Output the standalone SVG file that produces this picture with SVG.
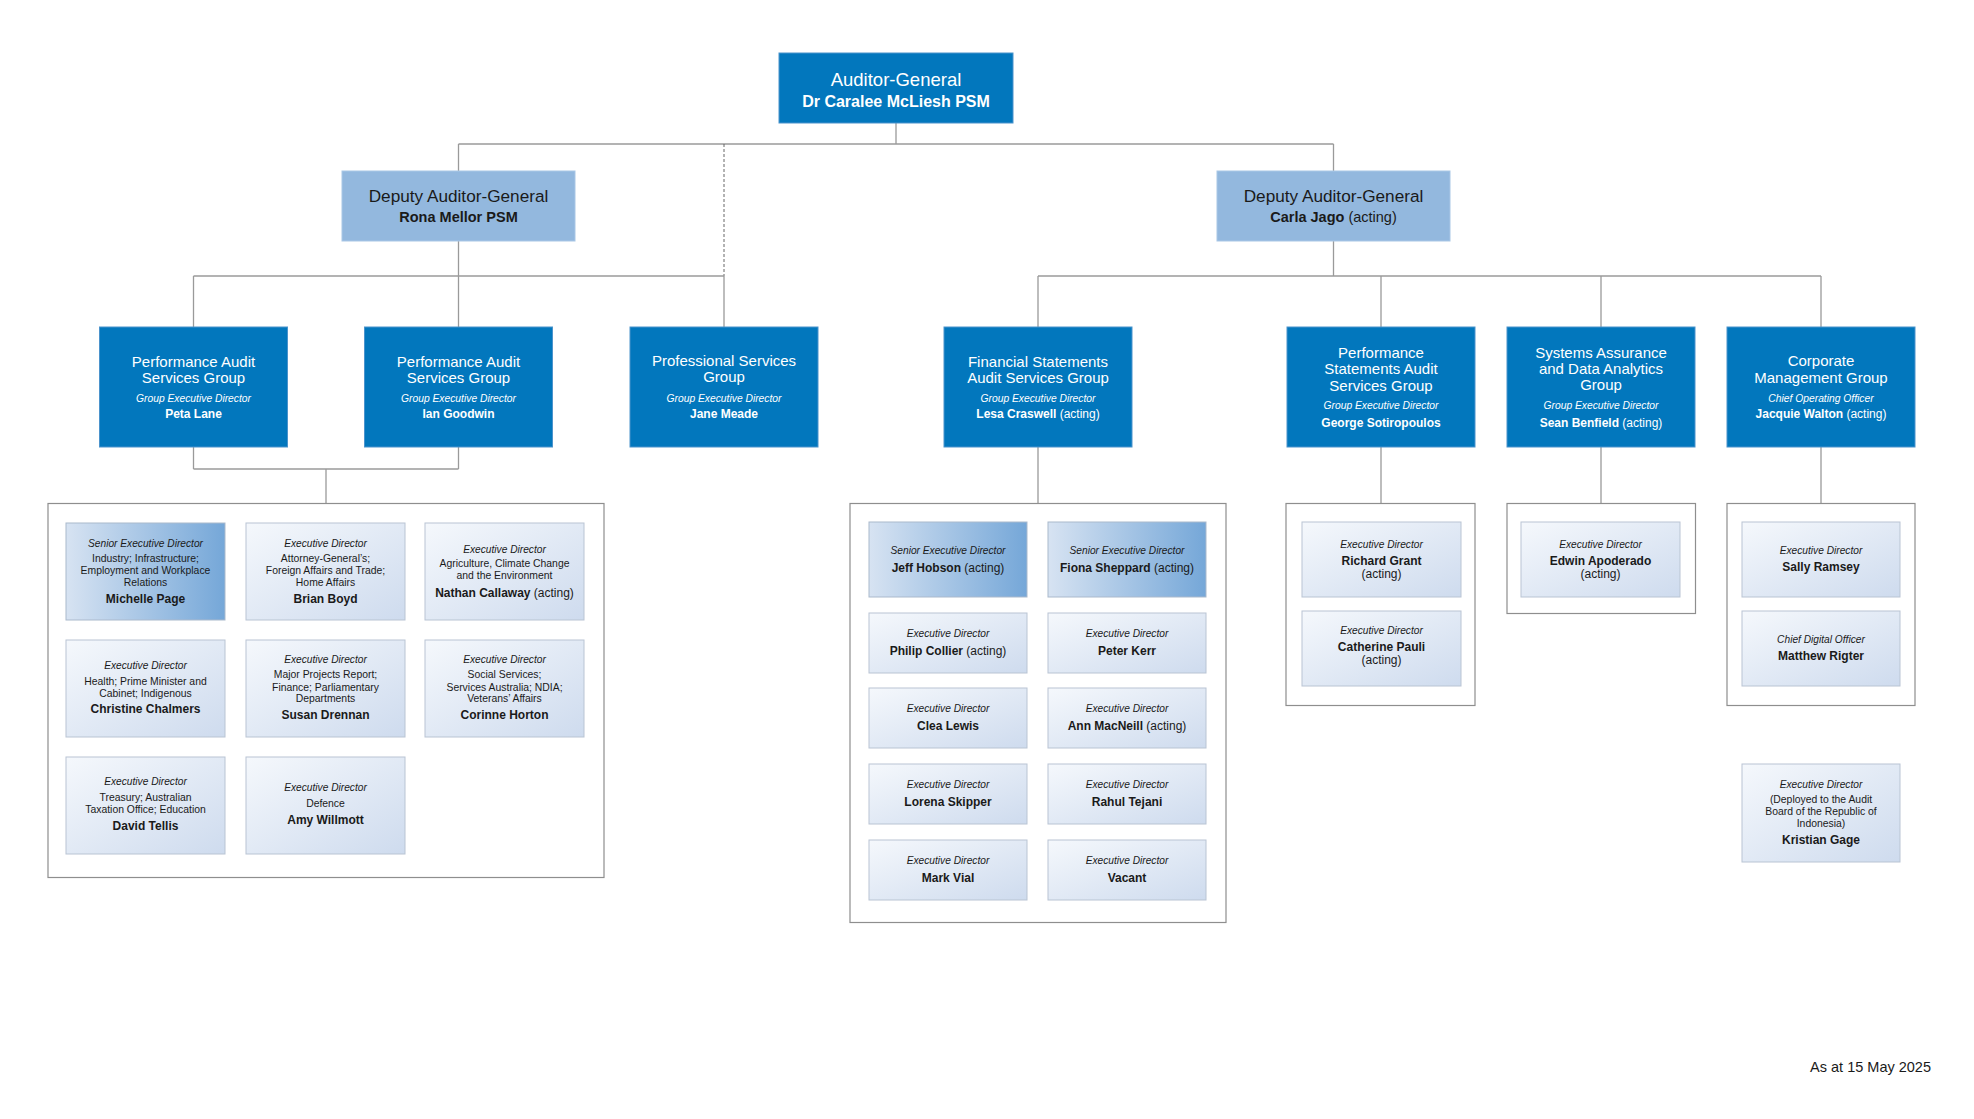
<svg xmlns="http://www.w3.org/2000/svg" width="1974" height="1119" viewBox="0 0 1974 1119">
<defs>
<linearGradient id="gSenior" x1="0" y1="0" x2="1" y2="0">
<stop offset="0" stop-color="#d7e3f2"/>
<stop offset="1" stop-color="#75a7d8"/>
</linearGradient>
<linearGradient id="gExec" x1="0" y1="0" x2="1" y2="1">
<stop offset="0" stop-color="#f5f8fc"/>
<stop offset="1" stop-color="#cedbee"/>
</linearGradient>
<style>
text{font-family:"Liberation Sans",Arial,Helvetica,sans-serif;text-anchor:middle;fill:#1a1a1a}
.blue{fill:#0277bd;stroke:#4b93cc;stroke-width:1}
.dag{fill:#93b8de;stroke:#a9c7e6;stroke-width:1}
.senior{fill:url(#gSenior);stroke:#aab9cc;stroke-width:1}
.exec{fill:url(#gExec);stroke:#b9c4d3;stroke-width:1}
.cont{fill:#ffffff;stroke:#8e8e8e;stroke-width:1.2}
.ln{fill:none;stroke:#9a9a9a;stroke-width:1.3}
.dash{fill:none;stroke:#666;stroke-width:1;stroke-dasharray:3 2}
.tag{font-size:18.5px;fill:#fff}
.nag{font-size:16px;font-weight:bold;fill:#fff}
.tdag{font-size:17.2px}
.ndag{font-size:14.5px;font-weight:bold}
.ndagr{font-size:14.5px;font-weight:normal}
.tg{font-size:15px;fill:#fff}
.rg{font-size:10.3px;font-style:italic;fill:#fff}
.ng{font-size:12px;font-weight:bold;fill:#fff}
.ngr{font-weight:normal}
.rc{font-size:10.2px;font-style:italic}
.dc{font-size:10.4px}
.nc{font-size:12px;font-weight:bold}
.ncr{font-weight:normal}
.ac{font-size:12px}
.foot{font-size:14.5px;text-anchor:end}
</style>
</defs>
<rect width="1974" height="1119" fill="#ffffff"/>

<g id="connectors">
<path class="ln" d="M896 123V144M458.5 144H1333.5M458.5 144V171M1333.5 144V171"/>
<path class="dash" d="M724 144V276"/>
<path class="ln" d="M458.5 241V327M193.5 276H724M193.5 276V327M724 276V327"/>
<path class="ln" d="M1333.5 241V276M1038 276H1821M1038 276V327M1381 276V327M1601 276V327M1821 276V327"/>
<path class="ln" d="M193.5 447V469M458.5 447V469M193.5 469H458.5M326 469V503.5"/>
<path class="ln" d="M1038 447V503.5M1381 447V503.5M1601 447V503.5M1821 447V503.5"/>
</g>

<g id="auditor-general">
<rect class="blue" x="779" y="53" width="234" height="70"/>
<text class="tag" x="896" y="86">Auditor-General</text>
<text class="nag" x="896" y="107">Dr Caralee McLiesh PSM</text>
</g>

<g id="dag-mellor">
<rect class="dag" x="342" y="171" width="233" height="70"/>
<text class="tdag" x="458.5" y="201.7">Deputy Auditor-General</text>
<text class="ndag" x="458.5" y="222">Rona Mellor PSM</text>
</g>

<g id="dag-jago">
<rect class="dag" x="1217" y="171" width="233" height="70"/>
<text class="tdag" x="1333.5" y="201.7">Deputy Auditor-General</text>
<text class="ndag" x="1333.5" y="222.3">Carla Jago <tspan class="ndagr">(acting)</tspan></text>
</g>

<g id="pasg-lane">
<rect class="blue" x="99.5" y="327" width="188" height="120"/>
<text class="tg" x="193.5" y="366.7">Performance Audit</text>
<text class="tg" x="193.5" y="382.7">Services Group</text>
<text class="rg" x="193.5" y="401.7">Group Executive Director</text>
<text class="ng" x="193.5" y="418.3">Peta Lane</text>
</g>

<g id="pasg-goodwin">
<rect class="blue" x="364.5" y="327" width="188" height="120"/>
<text class="tg" x="458.5" y="366.7">Performance Audit</text>
<text class="tg" x="458.5" y="382.7">Services Group</text>
<text class="rg" x="458.5" y="401.7">Group Executive Director</text>
<text class="ng" x="458.5" y="418.3">Ian Goodwin</text>
</g>

<g id="psg">
<rect class="blue" x="630" y="327" width="188" height="120"/>
<text class="tg" x="724" y="365.5">Professional Services</text>
<text class="tg" x="724" y="381.7">Group</text>
<text class="rg" x="724" y="401.7">Group Executive Director</text>
<text class="ng" x="724" y="418.3">Jane Meade</text>
</g>

<g id="fsasg">
<rect class="blue" x="944" y="327" width="188" height="120"/>
<text class="tg" x="1038" y="366.7">Financial Statements</text>
<text class="tg" x="1038" y="382.7">Audit Services Group</text>
<text class="rg" x="1038" y="401.7">Group Executive Director</text>
<text class="ng" x="1038" y="418.3">Lesa Craswell <tspan class="ngr">(acting)</tspan></text>
</g>

<g id="psasg">
<rect class="blue" x="1287" y="327" width="188" height="120"/>
<text class="tg" x="1381" y="358.3">Performance</text>
<text class="tg" x="1381" y="374.3">Statements Audit</text>
<text class="tg" x="1381" y="390.5">Services Group</text>
<text class="rg" x="1381" y="409.3">Group Executive Director</text>
<text class="ng" x="1381" y="426.7">George Sotiropoulos</text>
</g>

<g id="sadag">
<rect class="blue" x="1507" y="327" width="188" height="120"/>
<text class="tg" x="1601" y="357.7">Systems Assurance</text>
<text class="tg" x="1601" y="373.5">and Data Analytics</text>
<text class="tg" x="1601" y="389.5">Group</text>
<text class="rg" x="1601" y="409.3">Group Executive Director</text>
<text class="ng" x="1601" y="426.7">Sean Benfield <tspan class="ngr">(acting)</tspan></text>
</g>

<g id="cmg">
<rect class="blue" x="1727" y="327" width="188" height="120"/>
<text class="tg" x="1821" y="366">Corporate</text>
<text class="tg" x="1821" y="382.7">Management Group</text>
<text class="rg" x="1821" y="401.7">Chief Operating Officer</text>
<text class="ng" x="1821" y="418.3">Jacquie Walton <tspan class="ngr">(acting)</tspan></text>
</g>

<g id="pasg-team">
<rect class="cont" x="48" y="503.5" width="556" height="374"/>
</g>
<g id="ed-page">
<rect class="senior" x="66" y="523" width="159" height="97"/>
<text class="rc" x="145.5" y="546.7">Senior Executive Director</text>
<text class="dc" x="145.5" y="561.7">Industry; Infrastructure;</text>
<text class="dc" x="145.5" y="573.7">Employment and Workplace</text>
<text class="dc" x="145.5" y="585.5">Relations</text>
<text class="nc" x="145.5" y="603.3">Michelle Page</text>
</g>
<g id="ed-boyd">
<rect class="exec" x="246" y="523" width="159" height="97"/>
<text class="rc" x="325.5" y="546.7">Executive Director</text>
<text class="dc" x="325.5" y="561.7">Attorney-General’s;</text>
<text class="dc" x="325.5" y="573.5">Foreign Affairs and Trade;</text>
<text class="dc" x="325.5" y="585.5">Home Affairs</text>
<text class="nc" x="325.5" y="603.3">Brian Boyd</text>
</g>
<g id="ed-callaway">
<rect class="exec" x="425" y="523" width="159" height="97"/>
<text class="rc" x="504.5" y="552.7">Executive Director</text>
<text class="dc" x="504.5" y="567.3">Agriculture, Climate Change</text>
<text class="dc" x="504.5" y="579.3">and the Environment</text>
<text class="nc" x="504.5" y="597.3">Nathan Callaway <tspan class="ncr">(acting)</tspan></text>
</g>
<g id="ed-chalmers">
<rect class="exec" x="66" y="640" width="159" height="97"/>
<text class="rc" x="145.5" y="669.3">Executive Director</text>
<text class="dc" x="145.5" y="684.7">Health; Prime Minister and</text>
<text class="dc" x="145.5" y="696.7">Cabinet; Indigenous</text>
<text class="nc" x="145.5" y="713.3">Christine Chalmers</text>
</g>
<g id="ed-drennan">
<rect class="exec" x="246" y="640" width="159" height="97"/>
<text class="rc" x="325.5" y="663.3">Executive Director</text>
<text class="dc" x="325.5" y="678.3">Major Projects Report;</text>
<text class="dc" x="325.5" y="690.5">Finance; Parliamentary</text>
<text class="dc" x="325.5" y="702.3">Departments</text>
<text class="nc" x="325.5" y="719.3">Susan Drennan</text>
</g>
<g id="ed-horton">
<rect class="exec" x="425" y="640" width="159" height="97"/>
<text class="rc" x="504.5" y="663.3">Executive Director</text>
<text class="dc" x="504.5" y="678.3">Social Services;</text>
<text class="dc" x="504.5" y="690.5">Services Australia; NDIA;</text>
<text class="dc" x="504.5" y="702.3">Veterans’ Affairs</text>
<text class="nc" x="504.5" y="719.3">Corinne Horton</text>
</g>
<g id="ed-tellis">
<rect class="exec" x="66" y="757" width="159" height="97"/>
<text class="rc" x="145.5" y="785.3">Executive Director</text>
<text class="dc" x="145.5" y="801">Treasury; Australian</text>
<text class="dc" x="145.5" y="813.3">Taxation Office; Education</text>
<text class="nc" x="145.5" y="830">David Tellis</text>
</g>
<g id="ed-willmott">
<rect class="exec" x="246" y="757" width="159" height="97"/>
<text class="rc" x="325.5" y="791.3">Executive Director</text>
<text class="dc" x="325.5" y="807.3">Defence</text>
<text class="nc" x="325.5" y="824">Amy Willmott</text>
</g>

<g id="fsasg-team">
<rect class="cont" x="850" y="503.5" width="376" height="419"/>
</g>
<g id="sed-hobson">
<rect class="senior" x="869" y="522" width="158" height="75"/>
<text class="rc" x="948" y="554.3">Senior Executive Director</text>
<text class="nc" x="948" y="571.7">Jeff Hobson <tspan class="ncr">(acting)</tspan></text>
</g>
<g id="sed-sheppard">
<rect class="senior" x="1048" y="522" width="158" height="75"/>
<text class="rc" x="1127" y="554.3">Senior Executive Director</text>
<text class="nc" x="1127" y="571.7">Fiona Sheppard <tspan class="ncr">(acting)</tspan></text>
</g>
<g id="ed-collier">
<rect class="exec" x="869" y="613" width="158" height="60"/>
<text class="rc" x="948" y="637.3">Executive Director</text>
<text class="nc" x="948" y="655.3">Philip Collier <tspan class="ncr">(acting)</tspan></text>
</g>
<g id="ed-kerr">
<rect class="exec" x="1048" y="613" width="158" height="60"/>
<text class="rc" x="1127" y="637.3">Executive Director</text>
<text class="nc" x="1127" y="655.3">Peter Kerr</text>
</g>
<g id="ed-lewis">
<rect class="exec" x="869" y="688" width="158" height="60"/>
<text class="rc" x="948" y="712.3">Executive Director</text>
<text class="nc" x="948" y="730.3">Clea Lewis</text>
</g>
<g id="ed-macneill">
<rect class="exec" x="1048" y="688" width="158" height="60"/>
<text class="rc" x="1127" y="712.3">Executive Director</text>
<text class="nc" x="1127" y="730.3">Ann MacNeill <tspan class="ncr">(acting)</tspan></text>
</g>
<g id="ed-skipper">
<rect class="exec" x="869" y="764" width="158" height="60"/>
<text class="rc" x="948" y="788.3">Executive Director</text>
<text class="nc" x="948" y="806.3">Lorena Skipper</text>
</g>
<g id="ed-tejani">
<rect class="exec" x="1048" y="764" width="158" height="60"/>
<text class="rc" x="1127" y="788.3">Executive Director</text>
<text class="nc" x="1127" y="806.3">Rahul Tejani</text>
</g>
<g id="ed-vial">
<rect class="exec" x="869" y="840" width="158" height="60"/>
<text class="rc" x="948" y="864.3">Executive Director</text>
<text class="nc" x="948" y="882.3">Mark Vial</text>
</g>
<g id="ed-vacant">
<rect class="exec" x="1048" y="840" width="158" height="60"/>
<text class="rc" x="1127" y="864.3">Executive Director</text>
<text class="nc" x="1127" y="882.3">Vacant</text>
</g>

<g id="psasg-team">
<rect class="cont" x="1286" y="503.5" width="189" height="202"/>
</g>
<g id="ed-grant">
<rect class="exec" x="1302" y="522" width="159" height="75"/>
<text class="rc" x="1381.5" y="548.3">Executive Director</text>
<text class="nc" x="1381.5" y="565">Richard Grant</text>
<text class="ac" x="1381.5" y="578.3">(acting)</text>
</g>
<g id="ed-pauli">
<rect class="exec" x="1302" y="611" width="159" height="75"/>
<text class="rc" x="1381.5" y="634.3">Executive Director</text>
<text class="nc" x="1381.5" y="650.7">Catherine Pauli</text>
<text class="ac" x="1381.5" y="664">(acting)</text>
</g>

<g id="sadag-team">
<rect class="cont" x="1507" y="503.5" width="188.5" height="110"/>
</g>
<g id="ed-apoderado">
<rect class="exec" x="1521" y="522" width="159" height="75"/>
<text class="rc" x="1600.5" y="548.3">Executive Director</text>
<text class="nc" x="1600.5" y="565">Edwin Apoderado</text>
<text class="ac" x="1600.5" y="578.3">(acting)</text>
</g>

<g id="cmg-team">
<rect class="cont" x="1727" y="503.5" width="188" height="202"/>
</g>
<g id="ed-ramsey">
<rect class="exec" x="1742" y="522" width="158" height="75"/>
<text class="rc" x="1821" y="554">Executive Director</text>
<text class="nc" x="1821" y="570.7">Sally Ramsey</text>
</g>
<g id="cdo-rigter">
<rect class="exec" x="1742" y="611" width="158" height="75"/>
<text class="rc" x="1821" y="643.3">Chief Digital Officer</text>
<text class="nc" x="1821" y="660">Matthew Rigter</text>
</g>

<g id="ed-gage">
<rect class="exec" x="1742" y="764" width="158" height="98"/>
<text class="rc" x="1821" y="788.3">Executive Director</text>
<text class="dc" x="1821" y="803.3">(Deployed to the Audit</text>
<text class="dc" x="1821" y="815">Board of the Republic of</text>
<text class="dc" x="1821" y="826.7">Indonesia)</text>
<text class="nc" x="1821" y="844">Kristian Gage</text>
</g>

<text class="foot" x="1931" y="1072.3">As at 15 May 2025</text>
</svg>
